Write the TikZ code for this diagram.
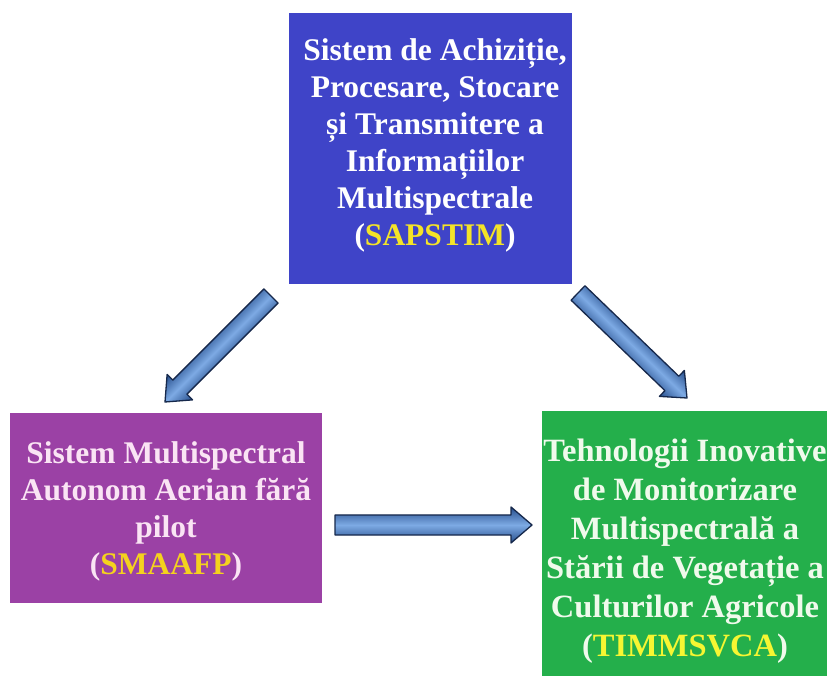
\documentclass[tikz,border=0pt]{standalone}
\usepackage{fontspec}
\setmainfont{Liberation Serif}
\usetikzlibrary{calc}

\definecolor{sapblue}{RGB}{63,68,200}
\definecolor{smapurple}{RGB}{155,65,165}
\definecolor{timgreen}{RGB}{36,175,75}
\definecolor{pinktext}{RGB}{250,228,244}
\definecolor{greentext}{RGB}{240,250,236}
\definecolor{acroA}{RGB}{244,228,40}
\definecolor{acroB}{RGB}{244,210,30}
\definecolor{acroC}{RGB}{246,246,50}
\definecolor{arrowedge}{RGB}{22,40,75}
\definecolor{arrowdark}{RGB}{38,78,140}
\definecolor{arrowlight}{RGB}{125,170,228}

\tikzset{
  box/.style={rectangle, inner sep=0pt, minimum width=#1},
  boxtext/.style={align=center, font=\fontsize{31.5}{37}\selectfont\bfseries},
  arrowbody/.style={draw=arrowedge, line width=1.3pt, line join=round,
    top color=arrowdark, bottom color=arrowdark, middle color=arrowlight}
}

% block arrow drawn from one named point to another
\newcommand\blockarrow[2]{%
  \path let \p1=($(#2)-(#1)$) in \pgfextra{%
    \pgfmathsetmacro\barang{atan2(\y1,\x1)}%
    \pgfmathsetmacro\barlen{veclen(\x1,\y1)}%
    \xdef\barang{\barang}\xdef\barlen{\barlen}};
  \begin{scope}[overlay, transform canvas={shift={(#1)}, rotate=\barang}]
    \shade[arrowbody] (0,-10) -- (\barlen-21,-10) -- (\barlen-21,-18)
      -- (\barlen,0) -- (\barlen-21,18) -- (\barlen-21,10) -- (0,10) -- cycle;
  \end{scope}
}

\begin{document}
\begin{tikzpicture}[x=1pt,y=1pt]
\useasboundingbox (0,0) rectangle (827,675);
\fill[white] (0,0) rectangle (827,675);

% boxes
\node[box=283pt, minimum height=271pt, fill=sapblue] (sap) at (430.5,526.5) {};
\node[boxtext, text=white] (saptext) at ($(sap.center)+(4.5,3)$)
  {Sistem de Achiziție,\\ Procesare, Stocare\\ și Transmitere a\\ Informațiilor\\
   Multispectrale\\ (\textcolor{acroA}{SAPSTIM})};

\node[box=312pt, minimum height=190pt, fill=smapurple] (sma) at (166,167) {};
\node[boxtext, text=pinktext] (smatext) at ($(sma.center)+(0,-3)$)
  {Sistem Multispectral\\ Autonom Aerian fără\\ pilot\\ (\textcolor{acroB}{SMAAFP})};

\node[box=286pt, minimum height=273pt, fill=timgreen] (tim) at (685,127.5) {};
\node[boxtext, font=\fontsize{32.5}{39}\selectfont\bfseries, text=greentext] (timtext)
  at ($(tim.center)+(0,-3.5)$)
  {Tehnologii Inovative\\ de Monitorizare\\ Multispectrală a\\ Stării de Vegetație a\\
   Culturilor Agricole\\ (\textcolor{acroC}{TIMMSVCA})};

% arrow end points
\coordinate (l0) at (271,379);
\coordinate (l1) at (165,273);
\coordinate (r0) at (578,382);
\coordinate (r1) at (687,277);
\coordinate (h0) at (335,150);
\coordinate (h1) at (532,150);

\blockarrow{l0}{l1}
\blockarrow{r0}{r1}
\blockarrow{h0}{h1}
\end{tikzpicture}
\end{document}
